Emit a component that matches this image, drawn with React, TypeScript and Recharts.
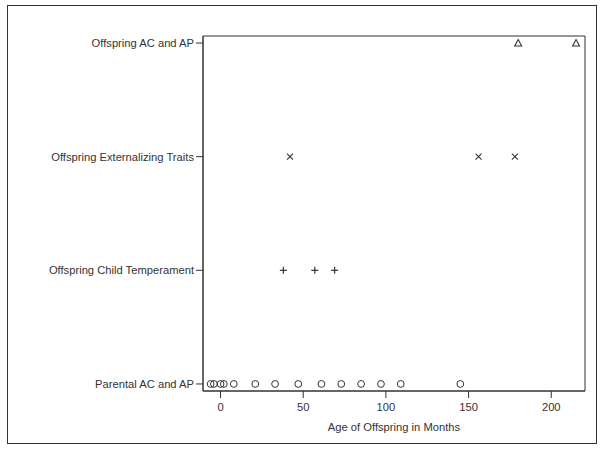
import React from 'react';
import { ScatterChart, Scatter, XAxis, YAxis, ReferenceArea } from 'recharts';

const categories = [
  'Parental AC and AP',
  'Offspring Child Temperament',
  'Offspring Externalizing Traits',
  'Offspring AC and AP',
];
const xTicks = [0, 50, 100, 150, 200];
const parentalAges = [-6, -4, 0, 2, 8, 21, 33, 47, 61, 73, 85, 97, 109, 145];
const temperamentAges = [38, 57, 69];
const externalizingAges = [42, 156, 178];
const offspringAcApAges = [180, 215];

const toPoints = (ages: number[], idx: number) => ages.map((a) => ({ x: a, y: idx }));

const INK = '#333333';
const FONT = '"Liberation Sans", Arial, sans-serif';
const FS = 11.2;

const CircleShape = (p: any) => (
  <circle cx={p.cx} cy={p.cy} r={3.4} fill="none" stroke={INK} strokeWidth={1} />
);
const PlusShape = (p: any) => (
  <g stroke={INK} strokeWidth={1.2}>
    <line x1={p.cx - 3.5} y1={p.cy} x2={p.cx + 3.5} y2={p.cy} />
    <line x1={p.cx} y1={p.cy - 3.5} x2={p.cx} y2={p.cy + 3.5} />
  </g>
);
const CrossShape = (p: any) => (
  <g stroke={INK} strokeWidth={1.1}>
    <line x1={p.cx - 3} y1={p.cy - 3} x2={p.cx + 3} y2={p.cy + 3} />
    <line x1={p.cx - 3} y1={p.cy + 3} x2={p.cx + 3} y2={p.cy - 3} />
  </g>
);
const TriangleShape = (p: any) => (
  <polygon
    points={`${p.cx},${p.cy - 3.5} ${p.cx - 3.5},${p.cy + 3} ${p.cx + 3.5},${p.cy + 3}`}
    fill="none"
    stroke={INK}
    strokeWidth={1.1}
  />
);

const X_DOMAIN: [number, number] = [-10.6, 220.4];
const Y_DOMAIN: [number, number] = [-0.062, 3.062];

export default function App() {
  return (
    <div style={{ position: 'absolute', left: 0, top: 0, width: 600, height: 450, background: '#fff' }}>
      <div
        style={{
          position: 'absolute',
          left: 7,
          top: 5,
          width: 588,
          height: 437,
          border: `1px solid ${INK}`,
        }}
      />
      <div style={{ position: 'absolute', left: 0, top: 0 }}>
        <ScatterChart
          width={600}
          height={450}
          margin={{ top: 36, right: 15, left: 8, bottom: 10 }}
        >
          <XAxis
            type="number"
            dataKey="x"
            domain={X_DOMAIN}
            allowDataOverflow
            ticks={xTicks}
            height={49}
            tickSize={7}
            tickMargin={5}
            stroke={INK}
            tick={{ fill: INK, fontSize: FS, fontFamily: FONT }}
            label={{
              value: 'Age of Offspring in Months',
              position: 'insideBottom',
              offset: 9,
              fill: INK,
              fontSize: FS,
              fontFamily: FONT,
            }}
          />
          <YAxis
            type="number"
            dataKey="y"
            domain={Y_DOMAIN}
            allowDataOverflow
            ticks={[0, 1, 2, 3]}
            tickFormatter={(v: number) => categories[v] ?? ''}
            width={195}
            tickSize={7}
            tickMargin={2}
            stroke={INK}
            tick={{ fill: INK, fontSize: FS, fontFamily: FONT }}
          />
          <ReferenceArea
            x1={X_DOMAIN[0]}
            x2={X_DOMAIN[1]}
            y1={Y_DOMAIN[0]}
            y2={Y_DOMAIN[1]}
            fill="none"
            stroke={INK}
            strokeWidth={1}
            ifOverflow="visible"
          />
          <Scatter data={toPoints(parentalAges, 0)} shape={CircleShape} isAnimationActive={false} />
          <Scatter data={toPoints(temperamentAges, 1)} shape={PlusShape} isAnimationActive={false} />
          <Scatter data={toPoints(externalizingAges, 2)} shape={CrossShape} isAnimationActive={false} />
          <Scatter data={toPoints(offspringAcApAges, 3)} shape={TriangleShape} isAnimationActive={false} />
        </ScatterChart>
      </div>
    </div>
  );
}
